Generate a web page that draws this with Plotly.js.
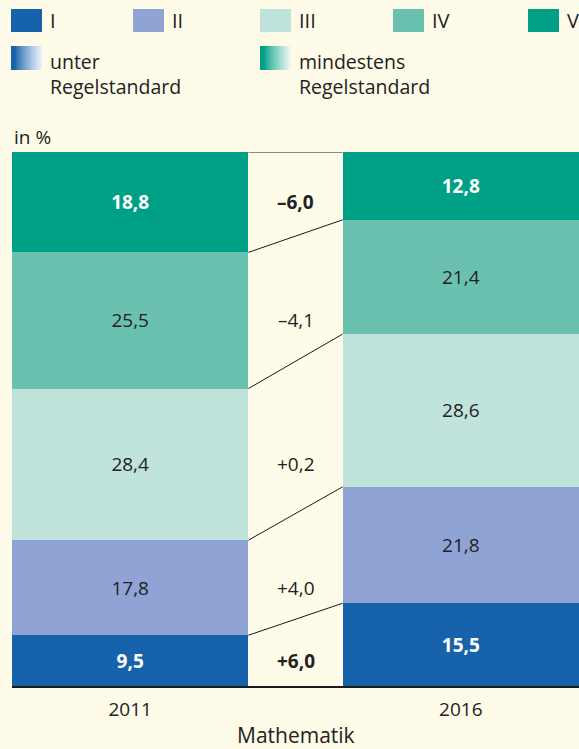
<!DOCTYPE html>
<html>
<head>
<meta charset="utf-8">
<script src="https://cdn.plot.ly/plotly-3.0.1.min.js"></script>
<style>
html,body{margin:0;padding:0;background:#fffbe9;}
#chart{width:579px;height:749px;}
</style>
</head>
<body>
<div id="chart"></div>
<script>
// ---- data ----
const years = ['2011', '2016'];
const subject = 'Mathematik';
const levels = ['I', 'II', 'III', 'IV', 'V'];
const levelI   = [9.5, 15.5];
const levelII  = [17.8, 21.8];
const levelIII = [28.4, 28.6];
const levelIV  = [25.5, 21.4];
const levelV   = [18.8, 12.8];
const colors = ['#1763ab', '#8fa3d4', '#c0e3db', '#6bc1b0', '#00a086'];
const boldLevels = [true, false, false, false, true];
const gradLabels = ['unter<br>Regelstandard', 'mindestens<br>Regelstandard'];

const series = [levelI, levelII, levelIII, levelIV, levelV];

// ---- geometry helpers (page pixels -> paper) ----
const W = 579, H = 749;
const M = {l: 12, r: 0, t: 152, b: 63};
const PW = W - M.l - M.r, PH = H - M.t - M.b;
const px = x => (x - M.l) / PW;
const py = y => (H - M.b - y) / PH;

const FONT = 'Open Sans, Liberation Sans, sans-serif';
const TXT = '#222222';
const barW = 0.715;

// ---- traces ----
const traces = series.map((vals, i) => ({
  type: 'bar',
  name: levels[i],
  x: [0, 1],
  y: vals,
  width: barW,
  marker: {color: colors[i], line: {width: 0}},
  text: vals.map(v => v.toFixed(1).replace('.', ',')),
  texttemplate: boldLevels[i] ? '<b>%{text}</b>' : '%{text}',
  textposition: 'inside',
  insidetextanchor: 'middle',
  textangle: 0,
  constraintext: 'none',
  textfont: {family: FONT, size: 19, color: boldLevels[i] ? '#ffffff' : TXT},
  hoverinfo: 'skip',
  showlegend: false
}));

// ---- connecting lines and difference labels ----
const shapes = [];
const annotations = [];
let cumA = 0, cumB = 0;
series.forEach((vals, i) => {
  const midA = cumA + vals[0] / 2;
  cumA += vals[0];
  cumB += vals[1];
  const d = vals[1] - vals[0];
  const sign = d < 0 ? '\u2013' : '+';
  const s = sign + Math.abs(d).toFixed(1).replace('.', ',');
  annotations.push({
    xref: 'x', yref: 'y', x: 0.5, y: midA,
    text: boldLevels[i] ? '<b>' + s + '</b>' : s,
    showarrow: false,
    font: {family: FONT, size: 19, color: TXT}
  });
  shapes.push({
    type: 'line', xref: 'x', yref: 'y',
    x0: barW / 2, x1: 1 - barW / 2,
    y0: Math.min(cumA, 100), y1: Math.min(cumB, 100),
    line: {color: '#1a1a1a', width: 1}
  });
});

// ---- legend (drawn with shapes + annotations) ----
const swX = [11, 133, 260, 393, 528];
levels.forEach((lab, i) => {
  shapes.push({
    type: 'rect', xref: 'paper', yref: 'paper',
    x0: px(swX[i]), x1: px(swX[i] + 31), y0: py(32), y1: py(9),
    fillcolor: colors[i], line: {width: 0}
  });
  annotations.push({
    xref: 'paper', yref: 'paper', x: px(swX[i] + 37), y: py(20),
    xanchor: 'left', yanchor: 'middle', text: lab, showarrow: false,
    font: {family: FONT, size: 20, color: TXT}
  });
});

function hexToRgb(h) {
  return [parseInt(h.slice(1, 3), 16), parseInt(h.slice(3, 5), 16), parseInt(h.slice(5, 7), 16)];
}
const gradX = [11, 260];
const gradFrom = [colors[0], colors[4]];
const gradTo = ['#eef1fa', '#f0f9f4'];
gradX.forEach((gx, k) => {
  const a = hexToRgb(gradFrom[k]), b = hexToRgb(gradTo[k]);
  const n = 31;
  for (let j = 0; j < n; j++) {
    let t = j / (n - 1);
    t = Math.max(0, (t - 0.12) / 0.88);
    t = Math.pow(t, 0.8);
    const c = a.map((v, q) => Math.round(v + (b[q] - v) * t));
    shapes.push({
      type: 'rect', xref: 'paper', yref: 'paper',
      x0: px(gx + j), x1: px(gx + j + 1.05), y0: py(70), y1: py(46),
      fillcolor: 'rgb(' + c.join(',') + ')', line: {width: 0}
    });
  }
  annotations.push({
    xref: 'paper', yref: 'paper', x: px(gx + 37), y: py(46),
    xanchor: 'left', yanchor: 'top', align: 'left',
    text: gradLabels[k], showarrow: false,
    font: {family: FONT, size: 19.5, color: TXT}
  });
});

annotations.push({
  xref: 'paper', yref: 'paper', x: 0, y: py(137),
  xanchor: 'left', yanchor: 'middle', text: 'in %', showarrow: false,
  font: {family: FONT, size: 19, color: TXT}
});

annotations.push({
  xref: 'paper', yref: 'paper', x: 0.5, y: py(735),
  xanchor: 'center', yanchor: 'middle', text: subject, showarrow: false,
  font: {family: FONT, size: 21, color: TXT}
});

const layout = {
  width: W, height: H,
  margin: M,
  paper_bgcolor: '#fffbe9',
  plot_bgcolor: 'rgba(0,0,0,0)',
  barmode: 'stack',
  separators: ',.',
  showlegend: false,
  xaxis: {
    range: [-barW / 2, 1 + barW / 2],
    tickvals: [0, 1], ticktext: years,
    ticks: 'outside', ticklen: 6, tickcolor: 'rgba(0,0,0,0)',
    tickfont: {family: FONT, size: 19, color: TXT},
    showline: true, linecolor: '#1a1a1a', linewidth: 1.5,
    showgrid: false, zeroline: false, fixedrange: true
  },
  yaxis: {
    range: [0, 100],
    showticklabels: false, showgrid: false, zeroline: false, showline: false,
    ticks: '', fixedrange: true
  },
  shapes: shapes,
  annotations: annotations
};

Plotly.newPlot('chart', traces, layout, {displayModeBar: false, staticPlot: true});
</script>
</body>
</html>
